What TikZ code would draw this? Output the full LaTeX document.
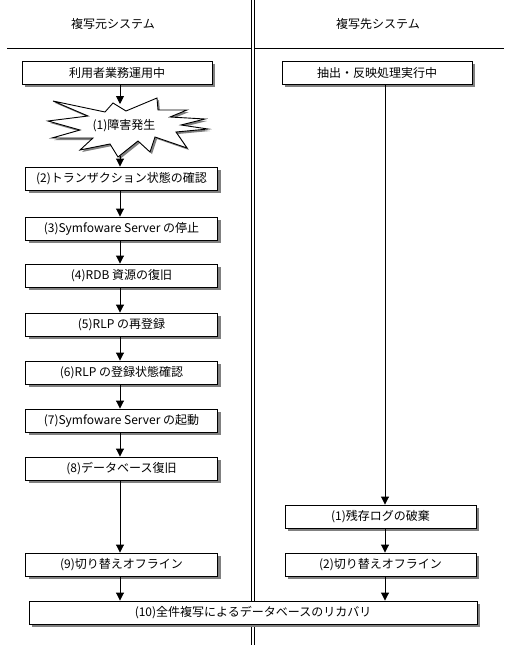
\documentclass[tikz,border=0pt]{standalone}
\usepackage{fontspec}
\setmainfont{Noto Sans CJK JP}
\usetikzlibrary{arrows.meta,shadows,calc}
\tikzset{
  box/.style={draw=black, fill=white, line width=0.9pt, minimum height=23pt, inner sep=0pt,
    general shadow={fill=black!50, shadow xshift=3pt, shadow yshift=-3pt},
    font=\fontsize{12}{14}\selectfont},
  arr/.style={line width=0.9pt, -{Triangle[length=8pt,width=8pt]}},
  rule/.style={line width=0.9pt},
  hdr/.style={font=\fontsize{12}{14}\selectfont},
}
\begin{document}
\begin{tikzpicture}[x=1pt,y=-1pt]
\useasboundingbox (0,0) rectangle (504,645);
% frame lines
\draw[rule] (7,48) -- (251.5,48);
\draw[rule] (254.5,48) -- (504,48);
\draw[rule] (251.5,0) -- (251.5,645);
\draw[rule] (254.5,0) -- (254.5,645);
\node[hdr] (h1) at (113,24) {複写元システム};
\node[hdr] (h2) at (378,24) {複写先システム};
% column coordinates
\coordinate (ax) at (120,0);
\coordinate (bx) at (385,0);
% top boxes
\node[box, minimum width=190pt] (b1) at (117,72.5) {利用者業務運用中};
\node[box, minimum width=190pt] (r0) at (377,72.5) {抽出・反映処理実行中};
% star
\coordinate (startop) at (120,104);
\coordinate (starbot) at (120,156);
\def\starpath{(53,101) -- (105,112) -- (113,103) -- (126,111) -- (157,98) -- (158,110) -- (187,110) -- (170,117) -- (205,119) -- (181,125) -- (208,129) -- (176,132) -- (187,148) -- (155,137) -- (150,152) -- (138,141) -- (118,157) -- (110,144) -- (80,150) -- (93,138) -- (52,138) -- (80,130) -- (48,121) -- (88,116) -- cycle}
\begin{scope}[shift={(2,2)}]
\fill[black!50] \starpath;
\end{scope}
\draw[fill=white, line width=0.9pt, line join=miter] \starpath;
\node[hdr] (star) at (124,126) {(1)障害発生};
\node[box, minimum width=192pt] (b2) at (121.5,178.5) {(2)トランザクション状態の確認};
\node[box, minimum width=192pt] (b3) at (121.5,228.5) {(3)Symfoware Server の停止};
\node[box, minimum width=192pt] (b4) at (121.5,275.5) {(4)RDB 資源の復旧};
\node[box, minimum width=192pt] (b5) at (121.5,324.5) {(5)RLP の再登録};
\node[box, minimum width=192pt] (b6) at (121.5,372.5) {(6)RLP の登録状態確認};
\node[box, minimum width=192pt] (b7) at (121.5,420.5) {(7)Symfoware Server の起動};
\node[box, minimum width=192pt] (b8) at (121.5,468.5) {(8)データベース復旧};
\node[box, minimum width=192pt] (b9) at (121.5,564.5) {(9)切り替えオフライン};
\node[box, minimum width=191pt] (r1) at (380.5,516.5) {(1)残存ログの破棄};
\node[box, minimum width=191pt] (r2) at (380.5,564.5) {(2)切り替えオフライン};
\node[box, minimum width=448pt] (b10) at (253,612.5) {(10)全件複写によるデータベースのリカバリ};
% arrows left
\draw[arr] (b1.south -| ax) -- (startop);
\draw[arr] (starbot) -- (b2.north -| ax);
\draw[arr] (b2.south -| ax) -- (b3.north -| ax);
\draw[arr] (b3.south -| ax) -- (b4.north -| ax);
\draw[arr] (b4.south -| ax) -- (b5.north -| ax);
\draw[arr] (b5.south -| ax) -- (b6.north -| ax);
\draw[arr] (b6.south -| ax) -- (b7.north -| ax);
\draw[arr] (b7.south -| ax) -- (b8.north -| ax);
\draw[arr] (b8.south -| ax) -- (b9.north -| ax);
\draw[arr] (b9.south -| ax) -- (b10.north -| ax);
% arrows right
\draw[arr] (r0.south -| bx) -- (r1.north -| bx);
\draw[arr] (r1.south -| bx) -- (r2.north -| bx);
\draw[arr] (r2.south -| bx) -- (b10.north -| bx);
\end{tikzpicture}
\end{document}
